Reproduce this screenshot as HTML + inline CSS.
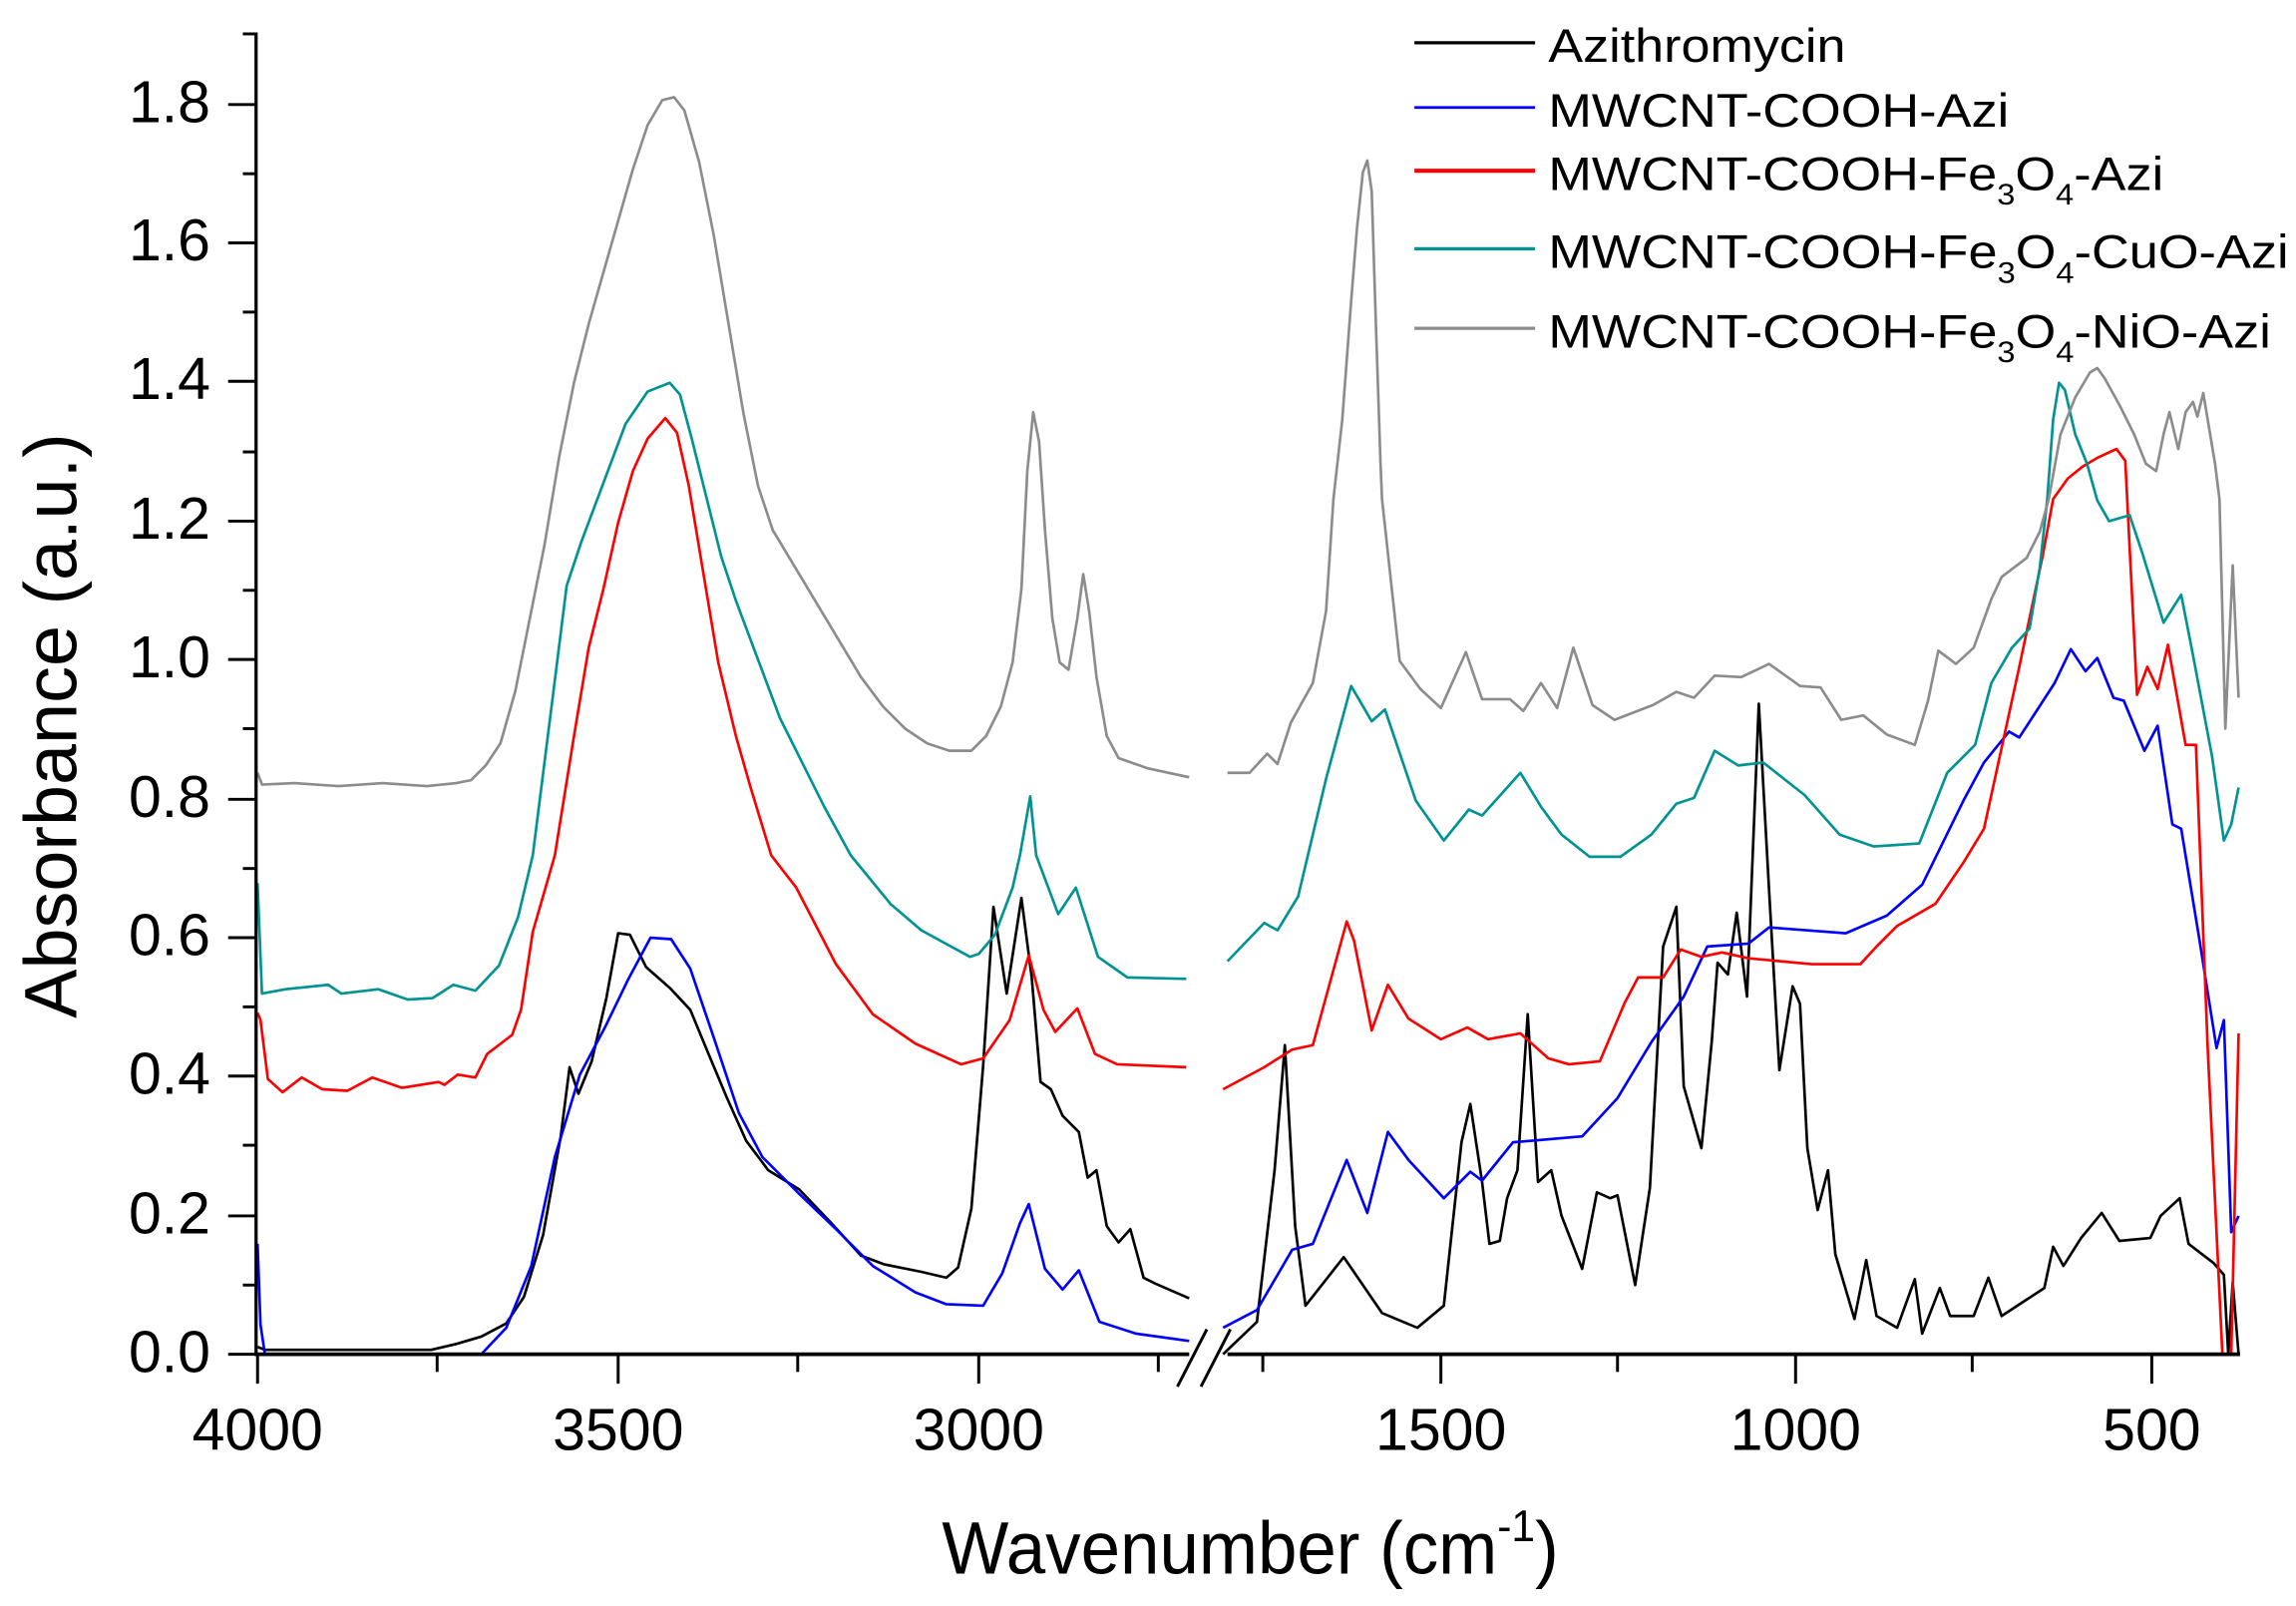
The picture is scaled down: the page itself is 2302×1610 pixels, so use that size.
<!DOCTYPE html>
<html><head><meta charset="utf-8"><style>
html,body{margin:0;padding:0;background:#fff;}
svg{display:block;}
text{font-family:"Liberation Sans",Arial,sans-serif;fill:#000;}
</style></head><body>
<svg width="2302" height="1610" viewBox="0 0 1560 1091" xmlns="http://www.w3.org/2000/svg">
<rect width="1560" height="1091" fill="#fff"/>
<g fill="none" stroke-width="1.8" stroke-linejoin="round">
<g>
<polyline stroke="#000" points="175,915 180,917 293,917 310,913 327,908 344,899 356,881 369,839 381,772 387,725 393,743 402,721 412,678 420,634 428,635 439,657 455,671 469,686 481,715 494,746 507,775 522,795 543,808 564,830 585,853 601,859 626,864 643,868 651,861 660,821 668,724 675,616 684,675 694,610 701,664 707,735 714,740 722,758 733,769 739,800 745,795 752,833 760,844 768,835 777,868 785,872 808,882"/>
<polyline stroke="#0000ff" points="175,845 177,900 180,920 327,920 344,902 361,860 377,786 394,730 411,698 427,665 442,637 456,638 469,658 485,705 502,756 518,786 543,811 568,835 593,860 622,878 643,886 668,887 681,865 693,831 699,818 710,862 722,876 733,863 747,898 772,906 808,911"/>
<polyline stroke="#ff0000" points="175,688 177,693 182,733 192,742 205,732 219,740 236,741 253,732 273,739 298,735 302,737 311,730 323,732 331,716 348,703 354,686 362,633 377,581 390,500 400,440 410,400 420,355 430,320 440,298 452,284 460,294 468,330 478,390 488,450 500,500 510,535 524,581 541,603 568,655 593,689 622,709 653,723 668,719 686,693 699,649 709,686 717,701 732,685 744,716 759,723 806,725"/>
<polyline stroke="#009393" points="175,600 178,675 194,672 223,669 232,675 257,672 277,679 294,678 308,669 323,673 339,656 352,623 362,581 375,478 385,398 395,368 410,328 425,288 440,266 455,260 462,268 470,298 480,338 490,378 500,408 515,448 530,488 545,518 560,548 578,581 605,614 626,632 659,650 665,648 676,635 688,603 693,581 700,541 704,581 719,621 731,603 746,650 766,664 806,665"/>
<polyline stroke="#8c8c8c" points="175,525 178,533 200,532 230,534 260,532 290,534 310,532 320,530 330,520 340,505 350,470 360,420 370,370 380,310 390,260 400,220 410,185 420,150 430,115 440,85 450,68 458,66 465,75 475,110 485,160 495,220 505,280 515,330 525,360 540,385 555,410 570,435 585,460 600,480 615,495 630,505 645,510 660,510 670,500 680,480 688,450 694,400 698,320 702,280 706,300 710,360 715,420 720,450 726,455 732,420 736,390 740,415 745,460 752,500 760,515 780,522 808,528"/>
</g>
<g transform="translate(0,-5)">
<polyline stroke="#000" points="831,925 854,903 866,800 873,715 880,838 887,892 913,859 939,897 963,907 981,892 993,781 999,755 1007,808 1012,850 1019,848 1024,819 1031,800 1038,694 1045,808 1054,800 1061,831 1075,867 1085,815 1094,819 1099,817 1111,878 1121,812 1130,648 1139,621 1144,743 1156,785 1163,713 1167,659 1174,667 1180,625 1187,682 1195,483 1202,610 1209,732 1218,675 1223,687 1228,785 1235,827 1242,800 1247,857 1260,901 1268,861 1275,899 1289,907 1301,874 1306,911 1318,880 1325,899 1341,899 1351,873 1360,899 1389,880 1395,852 1402,865 1414,846 1428,829 1440,848 1461,846 1468,831 1481,819 1487,850 1504,863 1511,871 1514,925 1517,876 1521,925"/>
<polyline stroke="#0000ff" points="831,907 854,895 878,854 892,850 915,793 929,829 943,774 957,793 981,819 999,801 1007,807 1028,781 1075,777 1099,751 1122,713 1144,682 1160,648 1188,646 1202,635 1254,639 1282,627 1306,606 1334,549 1348,523 1365,502 1372,506 1396,469 1407,446 1417,461 1425,452 1436,479 1443,481 1457,515 1466,498 1476,565 1482,568 1494,641 1506,717 1511,698 1516,842 1521,831"/>
<polyline stroke="#ff0000" points="831,745 859,730 878,718 892,715 915,631 920,644 932,705 943,674 957,697 979,711 997,703 1011,711 1033,707 1052,724 1066,728 1087,726 1104,686 1113,669 1130,669 1142,650 1156,655 1170,652 1188,656 1231,660 1264,660 1275,648 1289,634 1315,619 1334,591 1348,568 1372,458 1388,382 1395,344 1405,330 1415,322 1425,316 1438,310 1444,318 1452,477 1459,458 1466,473 1473,443 1485,511 1492,511 1500,717 1510,925 1516,925 1521,707"/>
<polyline stroke="#009393" points="834,658 859,632 868,637 882,614 901,534 918,471 932,495 941,487 962,549 981,576 998,555 1007,559 1033,530 1047,553 1061,572 1080,587 1101,587 1122,572 1139,551 1151,547 1165,515 1181,525 1198,523 1226,545 1250,572 1273,580 1304,578 1323,530 1342,511 1353,469 1367,445 1379,432 1386,390 1391,344 1395,290 1399,265 1403,270 1410,300 1418,320 1425,345 1433,359 1447,355 1456,382 1470,428 1482,409 1490,450 1503,519 1511,576 1516,565 1521,540"/>
<polyline stroke="#8c8c8c" points="834,530 849,530 861,517 868,524 877,496 892,469 901,420 906,344 912,290 918,210 922,160 926,122 929,114 932,135 935,230 938,320 939,344 951,454 965,473 979,486 996,448 1007,480 1026,480 1035,488 1047,469 1058,486 1069,445 1082,484 1097,494 1123,484 1139,475 1151,479 1165,464 1183,465 1202,456 1223,471 1237,472 1251,494 1266,491 1282,504 1301,511 1310,481 1317,447 1329,456 1341,445 1353,412 1360,397 1377,384 1386,366 1392,344 1400,300 1410,275 1420,258 1425,255 1430,262 1440,280 1450,300 1458,320 1465,325 1470,300 1474,285 1480,310 1485,285 1490,278 1493,288 1497,272 1500,290 1505,320 1508,344 1512,500 1517,389 1521,479"/>
</g>
</g>
<g stroke="#000" fill="none">
<line x1="174" y1="22" x2="174" y2="921" stroke-width="2.2"/>
<line x1="173" y1="920" x2="808" y2="920" stroke-width="2.6"/>
<line x1="834" y1="920" x2="1522" y2="920" stroke-width="2.6"/>
<g stroke-width="2">
<line x1="155" y1="920" x2="174" y2="920"/><line x1="165" y1="873" x2="174" y2="873"/>
<line x1="155" y1="826" x2="174" y2="826"/><line x1="165" y1="778" x2="174" y2="778"/>
<line x1="155" y1="731" x2="174" y2="731"/><line x1="165" y1="684" x2="174" y2="684"/>
<line x1="155" y1="637" x2="174" y2="637"/><line x1="165" y1="590" x2="174" y2="590"/>
<line x1="155" y1="543" x2="174" y2="543"/><line x1="165" y1="495" x2="174" y2="495"/>
<line x1="155" y1="448" x2="174" y2="448"/><line x1="165" y1="401" x2="174" y2="401"/>
<line x1="155" y1="354" x2="174" y2="354"/><line x1="165" y1="307" x2="174" y2="307"/>
<line x1="155" y1="259" x2="174" y2="259"/><line x1="165" y1="212" x2="174" y2="212"/>
<line x1="155" y1="165" x2="174" y2="165"/><line x1="165" y1="118" x2="174" y2="118"/>
<line x1="155" y1="71" x2="174" y2="71"/><line x1="165" y1="23" x2="174" y2="23"/>
<line x1="175" y1="920" x2="175" y2="940"/><line x1="297" y1="920" x2="297" y2="932"/>
<line x1="420" y1="920" x2="420" y2="940"/><line x1="542" y1="920" x2="542" y2="932"/>
<line x1="665" y1="920" x2="665" y2="940"/><line x1="787" y1="920" x2="787" y2="932"/>
<line x1="858" y1="920" x2="858" y2="932"/><line x1="979" y1="920" x2="979" y2="940"/>
<line x1="1099" y1="920" x2="1099" y2="932"/><line x1="1220" y1="920" x2="1220" y2="940"/>
<line x1="1340" y1="920" x2="1340" y2="932"/><line x1="1462" y1="920" x2="1462" y2="940"/>
<line x1="800" y1="942" x2="820" y2="903"/><line x1="816" y1="942" x2="836" y2="903"/>
</g>
</g>
<g font-size="40" text-anchor="end">
<text x="143" y="932">0.0</text><text x="143" y="838">0.2</text><text x="143" y="743">0.4</text>
<text x="143" y="649">0.6</text><text x="143" y="555">0.8</text><text x="143" y="460">1.0</text>
<text x="143" y="366">1.2</text><text x="143" y="271">1.4</text><text x="143" y="177">1.6</text>
<text x="143" y="83">1.8</text>
</g>
<g font-size="40" text-anchor="middle">
<text x="175" y="985">4000</text><text x="420" y="985">3500</text><text x="665" y="985">3000</text>
<text x="979" y="985">1500</text><text x="1220" y="985">1000</text><text x="1462" y="985">500</text>
</g>
<text x="640" y="1069" font-size="50" textLength="419" lengthAdjust="spacingAndGlyphs">Wavenumber (cm<tspan font-size="30" dy="-22">-1</tspan><tspan dy="22">)</tspan></text>
<text transform="translate(52,493) rotate(-90)" font-size="50" text-anchor="middle">Absorbance (a.u.)</text>
<g stroke-width="2.2">
<line x1="961" y1="29" x2="1043" y2="29" stroke="#000"/>
<line x1="961" y1="73" x2="1043" y2="73" stroke="#0000ff" stroke-width="1.8"/>
<line x1="961" y1="116" x2="1043" y2="116" stroke="#ff0000" stroke-width="2.8"/>
<line x1="961" y1="169" x2="1043" y2="169" stroke="#009393"/>
<line x1="961" y1="223" x2="1043" y2="223" stroke="#8c8c8c"/>
</g>
<g font-size="32">
<text x="1052" y="42" textLength="202" lengthAdjust="spacingAndGlyphs">Azithromycin</text>
<text x="1052" y="86" textLength="313" lengthAdjust="spacingAndGlyphs">MWCNT-COOH-Azi</text>
<text x="1052" y="129" textLength="418" lengthAdjust="spacingAndGlyphs">MWCNT-COOH-Fe<tspan font-size="20" dy="10">3</tspan><tspan dy="-10">O</tspan><tspan font-size="20" dy="10">4</tspan><tspan dy="-10">-Azi</tspan></text>
<text x="1052" y="182" textLength="503" lengthAdjust="spacingAndGlyphs">MWCNT-COOH-Fe<tspan font-size="20" dy="10">3</tspan><tspan dy="-10">O</tspan><tspan font-size="20" dy="10">4</tspan><tspan dy="-10">-CuO-Azi</tspan></text>
<text x="1052" y="236" textLength="491" lengthAdjust="spacingAndGlyphs">MWCNT-COOH-Fe<tspan font-size="20" dy="10">3</tspan><tspan dy="-10">O</tspan><tspan font-size="20" dy="10">4</tspan><tspan dy="-10">-NiO-Azi</tspan></text>
</g>
</svg>
</body></html>
